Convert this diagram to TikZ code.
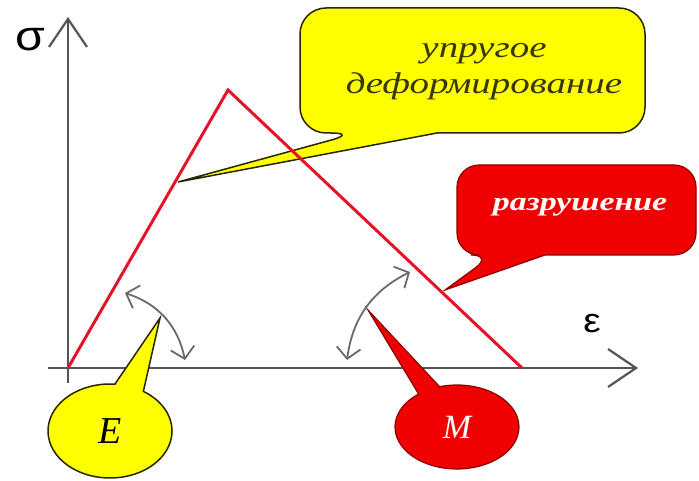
\documentclass[tikz,border=0pt]{standalone}
\usepackage{fontspec}
\setmainfont{Liberation Serif}
\newfontfamily\greekfont{Liberation Sans}
\usepackage{graphicx}
\usetikzlibrary{arrows.meta,shapes.callouts}
\definecolor{calloutyellow}{RGB}{255,255,0}
\definecolor{calloutred}{RGB}{240,0,0}
\definecolor{axisgray}{RGB}{85,85,85}
\definecolor{swinggray}{RGB}{105,105,105}
\definecolor{curvered}{RGB}{228,20,40}
\definecolor{olivetext}{RGB}{55,55,0}
\newcommand{\wider}[1]{\scalebox{1.3}[1]{#1}}
\begin{document}
\begin{tikzpicture}[x=1pt, y=-1pt,
  axis/.style={line width=2.2pt, axisgray, -{Straight Barb[length=28pt,width=38pt]}},
  swing/.style={line width=1.8pt, swinggray, {Straight Barb[length=11pt,width=24pt]}-{Straight Barb[length=11pt,width=24pt]}},
  yellowline/.style={draw=olivetext!70!black, line width=1.5pt},
  redline/.style={draw=red!55!black, line width=1.2pt}]
\useasboundingbox (0,0) rectangle (699,481);
% axes
\coordinate (O) at (68,368);
\coordinate (ybot) at (68,383);
\coordinate (ytip) at (68,17);
\coordinate (xleft) at (48,368);
\coordinate (xtip) at (638,368);
\draw[axis] (ybot) -- (ytip);
\draw[axis] (xleft) -- (xtip);
\node[font=\greekfont\fontsize{42}{42}\selectfont] (sigma) at (30,40) {\scalebox{1.15}[1]{σ}};
\node[font=\greekfont\fontsize{34}{34}\selectfont] (eps) at (592,324) {\scalebox{1.15}[1]{ε}};
% callouts
\coordinate (elastictip) at (178,182);
\coordinate (rupturetip) at (445,290);
\coordinate (Etip) at (160,318);
\coordinate (Mtip) at (368,310);
\draw[yellowline, fill=calloutyellow, rounded corners=26] (437,133) -- (645,133) -- (645,8) -- (300,8) -- (300,133) -- (357,133) [sharp corners] -- (elastictip) -- cycle;
\node[align=center, text=olivetext, font=\itshape\fontsize{30}{36}\selectfont] (elastic) at (484,72) {\wider{упругое}\\\wider{деформирование}};
\draw[redline, fill=calloutred, rounded corners=22] (545,255) -- (696,255) -- (696,165) -- (457,165) -- (457,255) -- (493,255) [sharp corners] -- (rupturetip) -- cycle;
\node[text=white, font=\bfseries\itshape\fontsize{26}{30}\selectfont] (rupture) at (580,207) {\wider{разрушение}};
\node[ellipse callout, yellowline, fill=calloutyellow, minimum width=124pt, minimum height=94pt, inner sep=0pt, callout absolute pointer={(Etip)}, callout pointer arc=28, font=\itshape\fontsize{38}{38}\selectfont] (E) at (110,431) {E};
\node[ellipse callout, redline, fill=calloutred, minimum width=124pt, minimum height=84pt, inner sep=0pt, callout absolute pointer={(Mtip)}, callout pointer arc=22, text=white, font=\itshape\fontsize{34}{34}\selectfont] (M) at (457,427) {M};
% stress-strain line
\coordinate (peak) at (228,90);
\coordinate (broken) at (522,368);
\draw[curvered, line width=3pt] (O) -- (peak) -- (broken);
% swing arrows
\coordinate (Ea) at (125,293);
\coordinate (Eb) at (185,360);
\coordinate (Ma) at (347,360);
\coordinate (Mb) at (410,272);
\draw[swing] (Ea) to[bend left=30] (Eb);
\draw[swing] (Ma) to[bend left=28] (Mb);
\end{tikzpicture}
\end{document}
